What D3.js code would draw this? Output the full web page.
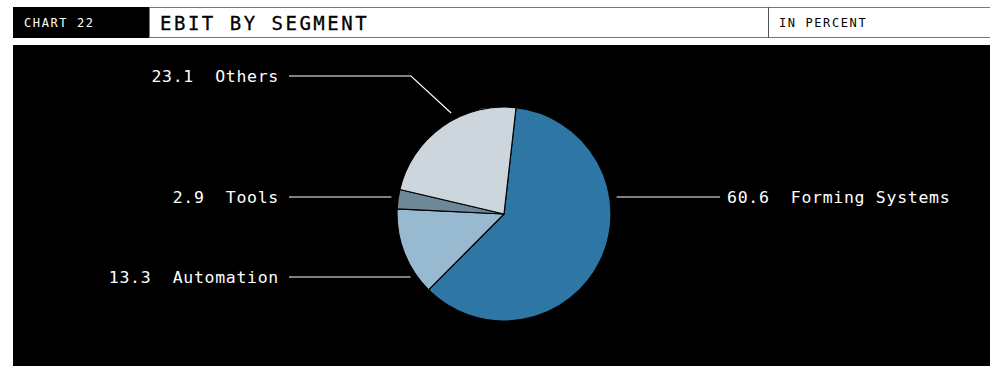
<!DOCTYPE html>
<html>
<head>
<meta charset="utf-8">
<script src="https://cdn.jsdelivr.net/npm/d3@7"></script>
<style>
  body { margin:0; background:#fff; }
  svg { display:block; }
  text { font-family: "DejaVu Sans Mono", "Liberation Mono", monospace; white-space: pre; }
</style>
</head>
<body>
<div id="chart"></div>
<script>
// data
const segments = ["Forming Systems", "Automation", "Tools", "Others"];
const shares = [60.6, 13.3, 2.9, 23.1];
const colors = ["#2e77a5", "#98bad0", "#6f8899", "#cdd5dd"];

// page size
var W = 990, H = 366;
var cx = 504, cy = 214, r = 107;

var svg = d3.select("#chart").append("svg")
  .attr("width", W).attr("height", H);

// header
svg.append("rect").attr("x", 13).attr("y", 7).attr("width", 136).attr("height", 31).attr("fill", "#000");
svg.append("text").attr("x", 24).attr("y", 27).attr("fill", "#fff")
  .style("font-size", "12px").style("letter-spacing", "1.6px").text("CHART 22");
svg.append("rect").attr("x", 149.5).attr("y", 7.5).attr("width", 850).attr("height", 30)
  .attr("fill", "#fff").attr("stroke", "#777").attr("stroke-width", 1);
svg.append("line").attr("x1", 768.5).attr("x2", 768.5).attr("y1", 7).attr("y2", 38)
  .attr("stroke", "#555");
svg.append("text").attr("x", 160).attr("y", 30).attr("fill", "#000")
  .style("font-size", "19px").style("letter-spacing", "2.5px").style("stroke", "#000").style("stroke-width", 0.3)
  .text("EBIT BY SEGMENT");
svg.append("text").attr("x", 779).attr("y", 27).attr("fill", "#000")
  .style("font-size", "12px").style("letter-spacing", "1.6px").text("IN PERCENT");

// chart area
svg.append("rect").attr("x", 13).attr("y", 45).attr("width", W - 13).attr("height", H - 45).attr("fill", "#000");

var data = segments.map(function(s, i){ return {name: s, value: shares[i], color: colors[i]}; });

var startA = 0.113;
var pie = d3.pie().sort(null).value(function(d){ return d.value; })
  .startAngle(startA).endAngle(startA + 2 * Math.PI);
var arc = d3.arc().innerRadius(0).outerRadius(r);
var arcs = pie(data);

var g = svg.append("g").attr("transform", "translate(" + cx + "," + cy + ")");
g.selectAll("path").data(arcs).enter().append("path")
  .attr("d", arc)
  .attr("fill", function(d){ return d.data.color; })
  .attr("stroke", "#000").attr("stroke-width", 1.2).attr("stroke-linejoin", "round");

// label layout: row y, side, anchor fraction within slice (for elbow)
var layout = {
  "Forming Systems": {y: 197, side: 1},
  "Automation": {y: 277, side: -1},
  "Tools": {y: 197, side: -1},
  "Others": {y: 76, side: -1, elbowX: 411, frac: 0.59}
};
var gap = 7;
var lbl = svg.append("g");
arcs.forEach(function(a){
  var L = layout[a.data.name];
  var pts;
  if (L.elbowX) {
    var ang = a.startAngle + (a.endAngle - a.startAngle) * L.frac;
    var ex = cx + (r + gap) * Math.sin(ang), ey = cy - (r + gap) * Math.cos(ang);
    pts = [[289, L.y], [L.elbowX, L.y], [ex, ey]];
  } else {
    var dy = L.y - cy;
    var dx = Math.sqrt(r * r - dy * dy) + gap;
    var ex2 = cx + L.side * dx;
    pts = L.side < 0 ? [[289, L.y], [ex2, L.y]] : [[ex2, L.y], [720, L.y]];
  }
  lbl.append("path").attr("d", d3.line()(pts))
    .attr("fill", "none").attr("stroke", "#fff").attr("stroke-width", 1.2);
  var label = d3.format(".1f")(a.data.value) + "  " + a.data.name;
  lbl.append("text")
    .attr("x", L.side < 0 ? 279 : 727)
    .attr("y", L.y + 6)
    .attr("text-anchor", L.side < 0 ? "end" : "start")
    .attr("fill", "#fff")
    .style("font-size", "16.5px").style("letter-spacing", "0.7px")
    .text(label);
});
</script>
</body>
</html>
